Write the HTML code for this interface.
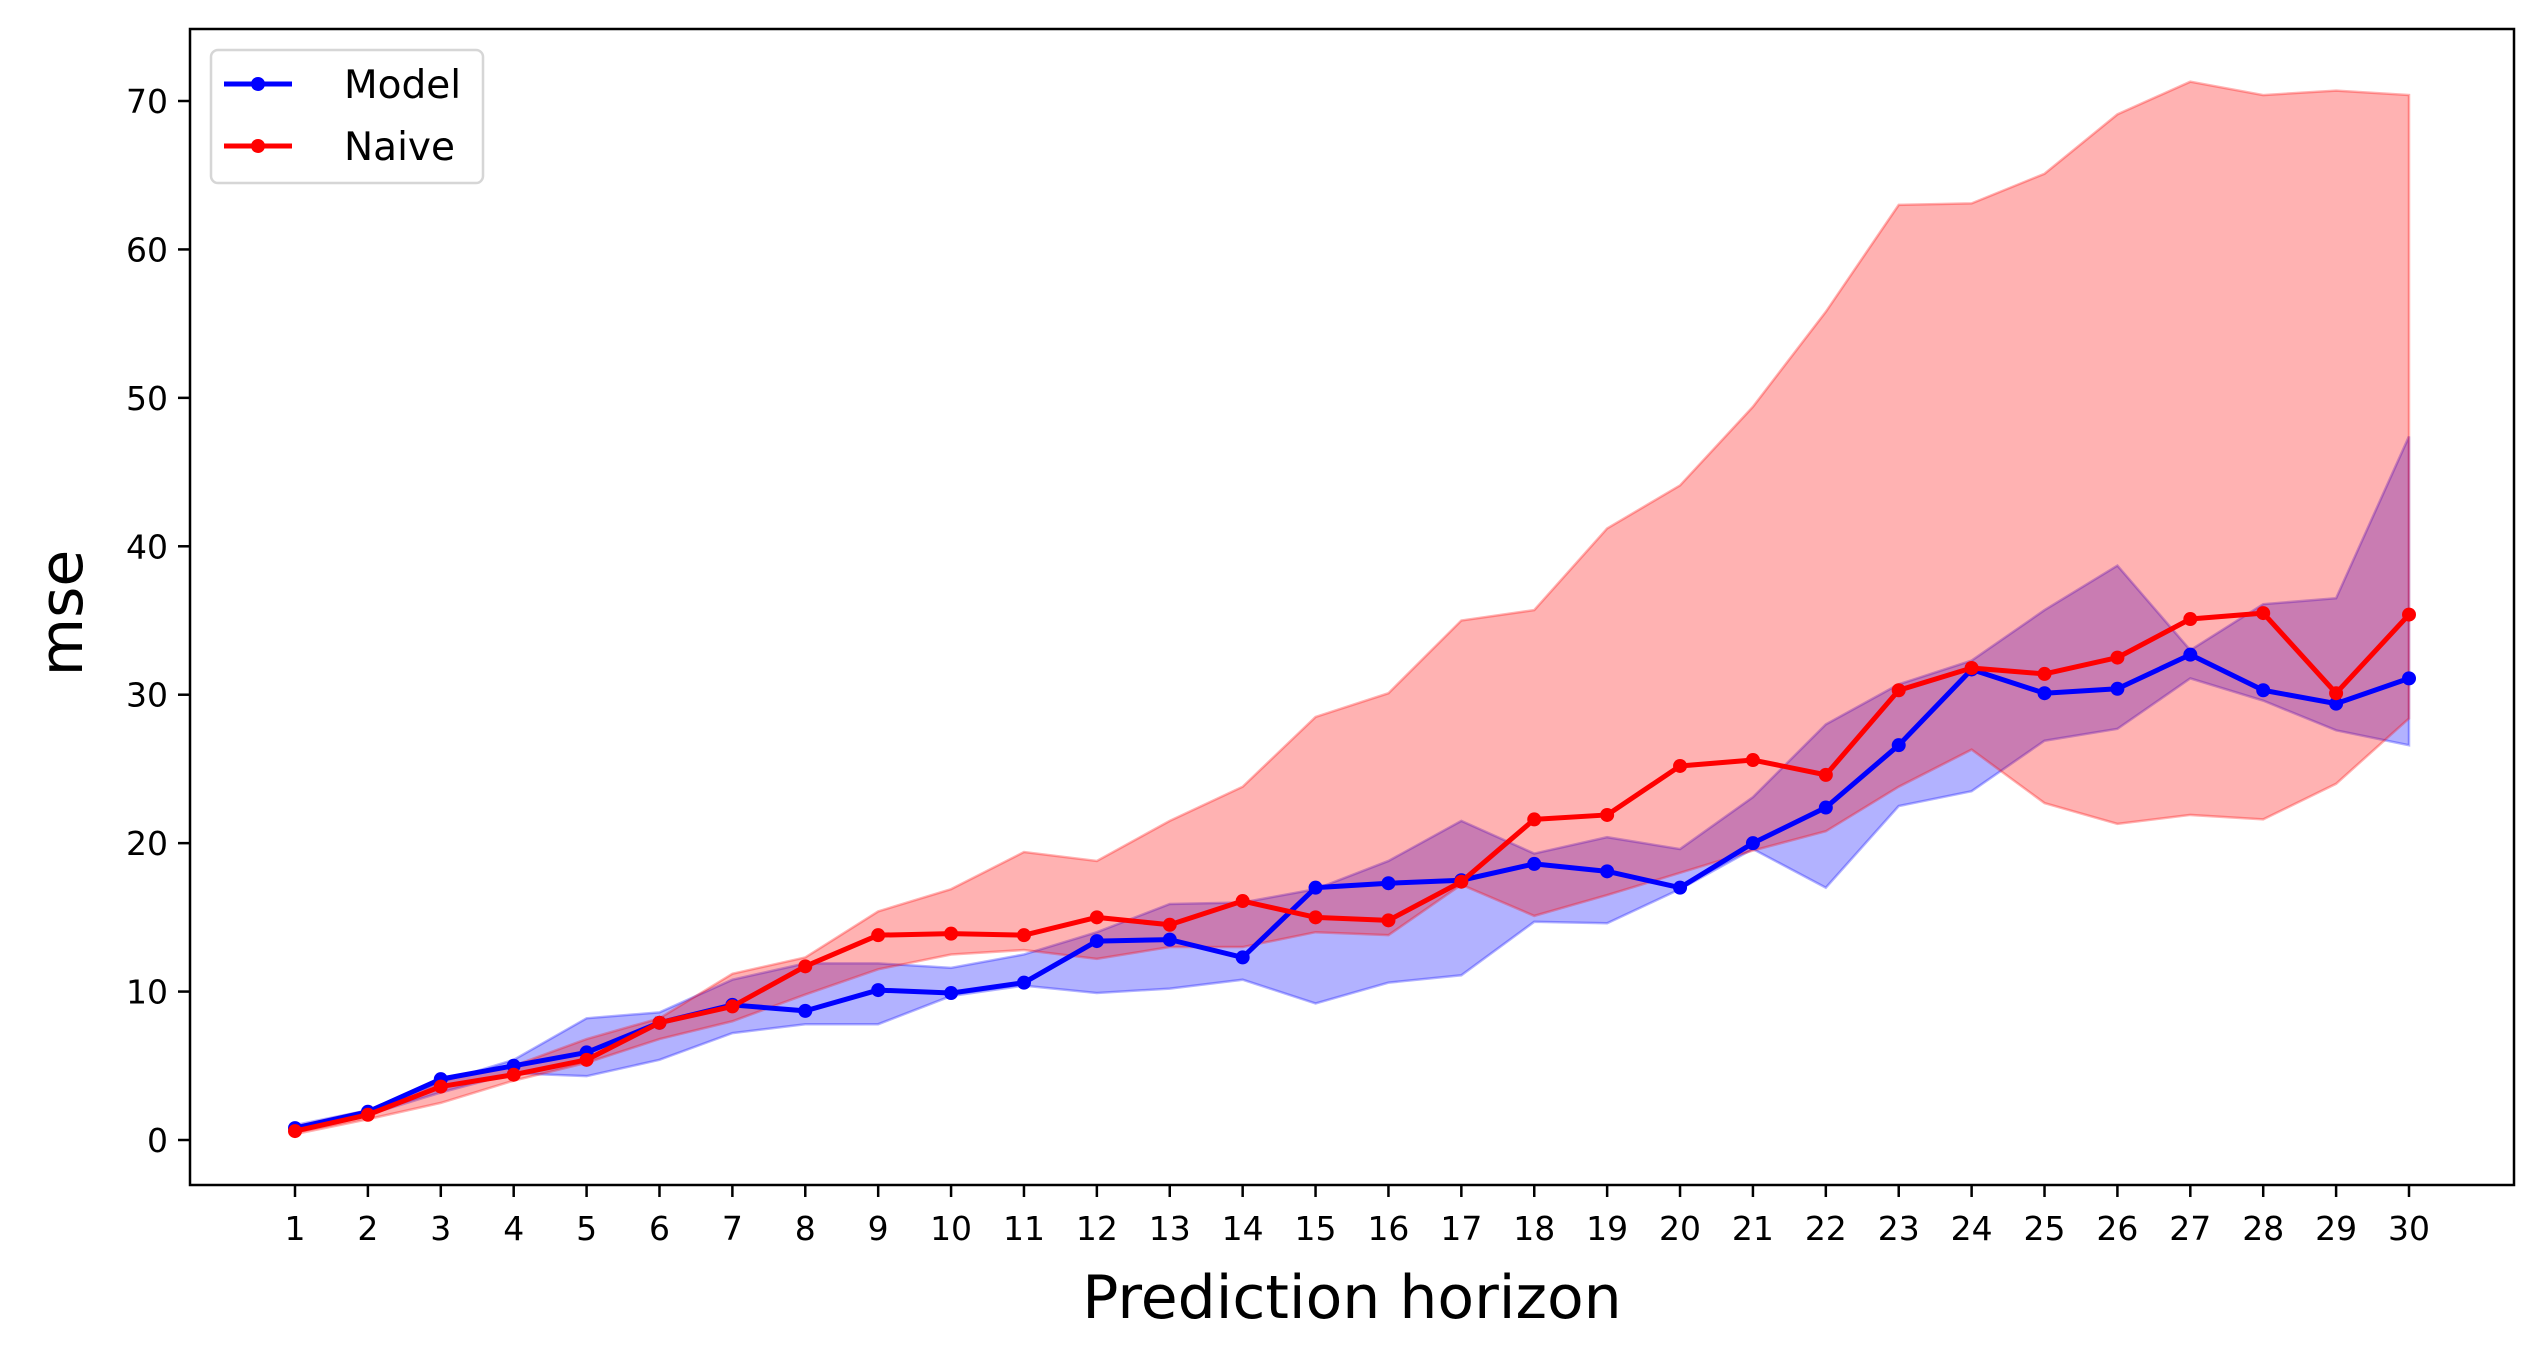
<!DOCTYPE html>
<html><head><meta charset="utf-8"><style>
body{margin:0;background:#fff;}
svg{display:block;font-family:"DejaVu Sans","Liberation Sans",sans-serif;}
</style></head><body>
<svg id="chart" width="2543" height="1360" viewBox="0 0 2543 1360" xmlns="http://www.w3.org/2000/svg">
<g id="fills"></g>
<g id="lines"></g>
<rect x="190" y="29" width="2324" height="1156" fill="none" stroke="#000" stroke-width="2.5"/>
<g id="axes"></g>
<text x="1352" y="1318" font-size="60" text-anchor="middle">Prediction horizon</text>
<text transform="translate(82,613) rotate(-90)" font-size="60" text-anchor="middle">mse</text>
<g>
<rect x="211" y="50" width="272" height="133" rx="7" fill="#fff" fill-opacity="0.8" stroke="#d6d6d6" stroke-width="2.5"/>
<g>
<line x1="224" y1="84" x2="292" y2="84" stroke="#0000ff" stroke-width="5"/>
<circle cx="258" cy="84" r="7" fill="#0000ff"/>
<text x="344" y="98" font-size="39">Model</text>
</g>
<g>
<line x1="224" y1="146" x2="292" y2="146" stroke="#ff0000" stroke-width="5"/>
<circle cx="258" cy="146" r="7" fill="#ff0000"/>
<text x="344" y="160" font-size="39">Naive</text>
</g>
</g>
</svg>
<script>
const horizons=[1,2,3,4,5,6,7,8,9,10,11,12,13,14,15,16,17,18,19,20,21,22,23,24,25,26,27,28,29,30];
const modelMean=[0.8,1.9,4.1,5.0,5.9,7.9,9.1,8.7,10.1,9.9,10.6,13.4,13.5,12.3,17.0,17.3,17.5,18.6,18.1,17.0,20.0,22.4,26.6,31.7,30.1,30.4,32.7,30.3,29.4,31.1];
const modelUpper=[1.0,2.0,3.9,5.4,8.2,8.6,10.8,11.9,11.9,11.6,12.5,14.0,15.9,16.0,16.9,18.8,21.5,19.3,20.4,19.6,23.1,28.0,30.7,32.3,35.7,38.7,33.0,36.1,36.5,47.4];
const modelLower=[0.6,1.7,3.2,4.5,4.3,5.4,7.2,7.8,7.8,9.7,10.4,9.9,10.2,10.8,9.2,10.6,11.1,14.7,14.6,16.9,19.6,17.0,22.5,23.5,26.9,27.7,31.1,29.6,27.6,26.6];
const naiveMean=[0.6,1.7,3.6,4.4,5.4,7.9,9.0,11.7,13.8,13.9,13.8,15.0,14.5,16.1,15.0,14.8,17.4,21.6,21.9,25.2,25.6,24.6,30.3,31.8,31.4,32.5,35.1,35.5,30.1,35.4];
const naiveUpper=[0.9,2.0,4.0,5.0,6.8,8.2,11.2,12.3,15.4,16.9,19.4,18.8,21.5,23.8,28.5,30.1,35.0,35.7,41.2,44.1,49.4,55.8,63.0,63.1,65.1,69.1,71.3,70.4,70.7,70.4];
const naiveLower=[0.4,1.4,2.5,4.0,5.2,6.8,8.0,9.8,11.5,12.5,12.8,12.2,13.0,13.0,14.0,13.8,17.2,15.1,16.5,18.0,19.5,20.8,23.8,26.3,22.7,21.3,21.9,21.6,24.0,28.4];
const yTicks=[0,10,20,30,40,50,60,70];

const NS="http://www.w3.org/2000/svg";
const X=h=>295+(h-1)*(2409-295)/29;
const Y=v=>1140-v*(1140-101)/70;
function mk(tag,attrs,parent){const e=document.createElementNS(NS,tag);for(const k in attrs)e.setAttribute(k,attrs[k]);parent.appendChild(e);return e;}
const fills=document.getElementById('fills'),lines=document.getElementById('lines'),axes=document.getElementById('axes');
function band(up,lo,color,name){
  let d=horizons.map((h,i)=>(i?'L':'M')+X(h)+','+Y(up[i])).join('');
  for(let i=horizons.length-1;i>=0;i--)d+='L'+X(horizons[i])+','+Y(lo[i]);
  const p=mk('path',{d:d+'Z',fill:color,'fill-opacity':0.3,stroke:color,'stroke-opacity':0.3,'stroke-width':2.5},fills);
  
  
}
band(modelUpper,modelLower,'#0000ff','model-band');
band(naiveUpper,naiveLower,'#ff0000','naive-band');
function series(vals,color,name){
  const g=mk('g',{},lines);
  
  
  mk('polyline',{points:horizons.map((h,i)=>X(h)+','+Y(vals[i])).join(' '),fill:'none',stroke:color,'stroke-width':5,'stroke-linejoin':'round'},g);
  horizons.forEach((h,i)=>{const c=mk('circle',{cx:X(h),cy:Y(vals[i]),r:7,fill:color},g);
    
    });
}
series(modelMean,'#0000ff','model-line');
series(naiveMean,'#ff0000','naive-line');
yTicks.forEach(v=>{
  mk('line',{x1:178,x2:190,y1:Y(v),y2:Y(v),stroke:'#000','stroke-width':2.5},axes);
  const t=mk('text',{x:168,y:Y(v)+12,'font-size':33,'text-anchor':'end'},axes);
  t.textContent=v;
  
  
});
horizons.forEach(h=>{
  mk('line',{x1:X(h),x2:X(h),y1:1185,y2:1197,stroke:'#000','stroke-width':2.5},axes);
  const t=mk('text',{x:X(h),y:1240,'font-size':33,'text-anchor':'middle'},axes);
  t.textContent=h;
  
  
});
</script>
</body></html>
